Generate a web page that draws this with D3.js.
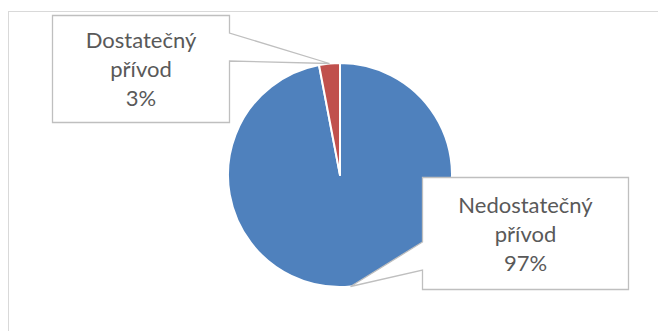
<!DOCTYPE html>
<html>
<head>
<meta charset="utf-8">
<script src="https://cdn.jsdelivr.net/npm/d3@7"></script>
<style>
  html, body { margin: 0; padding: 0; background: #fff; }
  svg { display: block; }
</style>
</head>
<body>
<svg id="chart" width="658" height="331"></svg>
<script>
// Intake categories and their shares (percent)
const categories = ["Nedostatečný přívod", "Dostatečný přívod"];
const values = [97, 3];
const colors = ["#4f81bd", "#c0504d"];

const svg = d3.select("#chart");
const W = 658, H = 331;

// chart area frame (runs off the right and bottom edges)
svg.append("rect")
  .attr("x", 8.5).attr("y", 11.5)
  .attr("width", W + 10).attr("height", H + 10)
  .attr("fill", "#fff")
  .attr("stroke", "#d9d9d9")
  .attr("stroke-width", 1);

const cx = 340, cy = 175, r = 112;

const pie = d3.pie().sort(null).value(d => d.v);
const slices = pie(categories.map((c, i) => ({ c, v: values[i], color: colors[i] })));
const arc = d3.arc().innerRadius(0).outerRadius(r);

const g = svg.append("g").attr("transform", `translate(${cx},${cy})`);
g.selectAll("path.slice")
  .data(slices)
  .join("path")
  .attr("class", "slice")
  .attr("d", arc)
  .attr("fill", d => d.data.color)
  .attr("stroke", "#fff")
  .attr("stroke-width", 2)
  .attr("stroke-linejoin", "round");

// data-label callouts: box plus pointer to the slice edge
const callouts = [
  { box: [422.5, 177.5, 628.5, 289.5], side: "left", base: [242, 270] },
  { box: [52.5, 15.5, 229.5, 122.5], side: "right", base: [33, 61] }
];

slices.forEach((s, i) => {
  const co = callouts[i];
  const mid = (s.startAngle + s.endAngle) / 2;
  const tx = cx + r * Math.sin(mid);
  const ty = cy - r * Math.cos(mid);
  const [x0, y0, x1, y1] = co.box;
  let pts;
  if (co.side === "right") {
    pts = [[x0, y0], [x1, y0], [x1, co.base[0]], [tx, ty], [x1, co.base[1]], [x1, y1], [x0, y1]];
  } else {
    pts = [[x0, y0], [x1, y0], [x1, y1], [x0, y1], [x0, co.base[1]], [tx, ty], [x0, co.base[0]]];
  }
  svg.append("path")
    .attr("d", d3.line()(pts) + "Z")
    .attr("fill", "#fff")
    .attr("stroke", "#bfbfbf")
    .attr("stroke-width", 1.3);

  const words = s.data.c.split(" ");
  const lines = [words[0], words.slice(1).join(" "), d3.format(".0f")(s.data.v) + "%"];
  const midX = (x0 + x1) / 2;
  const midY = (y0 + y1) / 2;
  const lh = 29;
  const t = svg.append("text")
    .attr("text-anchor", "middle")
    .attr("font-family", "Lato, 'Open Sans', sans-serif")
    .attr("font-size", 22)
    .attr("fill", "#595959");
  lines.forEach((ln, k) => {
    t.append("tspan")
      .attr("x", midX)
      .attr("y", midY + (k - 1) * lh + 8)
      .text(ln);
  });
});
</script>
</body>
</html>
